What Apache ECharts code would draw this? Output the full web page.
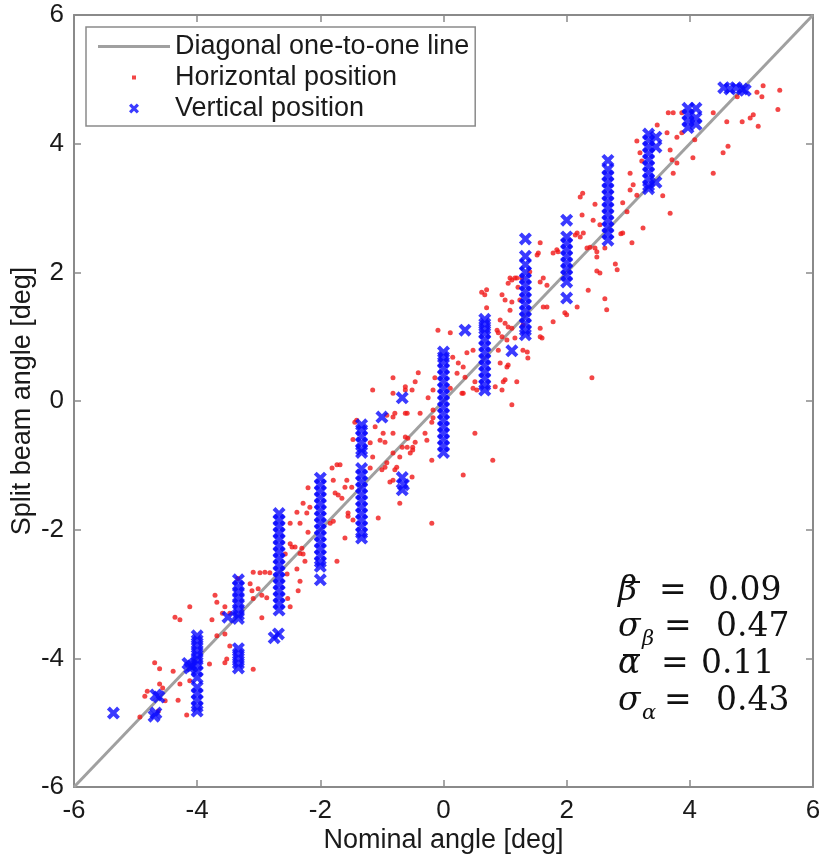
<!DOCTYPE html>
<html>
<head>
<meta charset="utf-8">
<script src="https://cdn.jsdelivr.net/npm/echarts@6/dist/echarts.min.js"></script>
<style>html,body{margin:0;padding:0;background:#fff;}#chart{width:824px;height:859px;}</style>
</head>
<body>
<div id="chart"></div>
<script>
// ---- data ----
var axisTicks = [-6, -4, -2, 0, 2, 4, 6];
var diagonalLine = [[-6, -6], [6, 6]];

var horizontalPoints = [
 [5.19,4.90],[5.46,4.83],[5.09,4.80],[5.17,4.73],[4.77,4.73],[5.43,4.53],[5.03,4.45],[4.98,4.40],[4.85,4.34],[4.60,4.34],
 [5.11,4.27],[4.38,4.48],[3.65,4.48],[3.73,4.48],[3.87,4.48],[3.47,4.29],[3.63,4.17],[3.87,4.17],[3.79,4.10],[3.14,4.04],
 [4.08,4.06],[4.62,3.96],[4.54,3.86],[4.05,3.78],[3.19,3.86],[3.22,3.73],[3.68,3.90],[3.71,3.75],[3.79,3.70],[3.73,3.54],
 [4.38,3.54],[3.03,3.54],[3.08,3.36],[3.03,3.28],[3.14,3.20],[3.56,3.19],[2.26,3.23],[2.22,3.17],[2.46,3.06],[2.91,3.08],
 [2.98,2.94],[3.68,2.92],[2.25,2.89],[2.43,2.81],[2.54,2.74],[3.24,2.69],[2.27,2.61],[1.57,2.46],[2.17,2.61],[2.22,2.55],
 [2.91,2.61],[3.06,2.46],[1.78,2.30],[1.86,2.32],[1.54,2.30],[2.38,2.39],[2.49,2.32],[2.62,2.38],[2.49,2.24],[2.79,2.13],
 [2.82,2.04],[2.49,2.02],[2.54,1.99],[1.08,1.91],[1.19,1.91],
 [2.62,1.59],[2.65,1.42],[2.35,1.72],[2.14,2.58],[2.88,2.60],[2.46,2.38],[2.33,2.38],[1.84,2.35],[1.52,2.27],[1.11,1.88],
 [1.16,1.91],[1.27,1.91],[1.57,1.85],[1.62,1.91],[1.68,1.80],[1.40,2.01],[1.21,1.77],[1.05,1.83],[0.70,1.73],[0.67,1.65],
 [0.95,1.65],[1.00,1.57],[1.11,1.54],[1.24,1.57],[1.68,1.46],[1.78,1.23],[1.97,1.37],[1.08,1.41],[0.92,1.26],[1.00,1.21],
 [1.05,1.15],[1.11,1.13],[0.87,1.10],[0.89,1.06],[0.95,1.00],[1.03,0.95],[1.16,0.98],[1.29,1.18],[1.57,1.13],[1.60,0.98],
 [1.36,0.76],[1.37,0.67],[0.89,0.79],[0.92,0.59],[1.05,0.56],[0.97,0.30],[1.19,0.30],[0.95,0.17],[0.51,0.30],[0.48,0.20],
 [0.32,0.12],[0.11,0.20],[0.35,0.37],[0.22,0.43],[0.24,0.59],[0.38,0.75],[0.48,0.79],[0.15,0.68],[0.11,1.06],[0.70,1.45],
 [0.62,1.69],
 [-0.09,1.10],[-0.82,0.36],[-0.41,0.44],[-0.46,0.30],[-0.62,0.17],[-0.51,0.17],[-0.82,0.12],[-0.14,0.36],[-0.17,0.17],[-0.25,0.05],
 [-0.59,-0.19],[-0.82,-0.25],[-0.38,-0.19],[-0.17,-0.14],[-0.17,-0.26],[-0.19,-0.33],[-0.98,-0.50],[-0.82,-0.50],[-0.62,-0.56],[-0.30,-0.50],
 [-0.27,-0.61],[-0.59,-0.72],[-0.50,-0.72],[-0.54,-0.81],[-0.82,-0.81],[-0.71,-0.87],[-0.19,-0.92],[-0.95,-1.03],[-0.79,-1.07],[-0.87,-1.26],
 [0.32,-1.15],[0.80,-0.92],[0.51,-0.50],[1.11,-0.06],[2.41,0.36],[0.32,0.53],[0.30,0.12],[0.54,0.17],[1.00,0.33],[0.84,0.22],
 [1.03,0.53],[1.29,0.79],[1.57,1.00],[2.00,1.34],[2.17,1.46],[1.62,1.46],
 [-1.15,0.17],[-0.62,0.22],[-0.79,-0.19],[-0.62,-0.19],[-0.92,-0.22],[-1.44,-0.33],[-1.11,-0.40],[-1.03,-0.61],[-0.95,-0.64],[-1.19,-0.65],
 [-1.15,-0.87],[-0.67,-0.72],[-0.58,-0.58],[-0.46,-0.64],[-0.50,-0.76],[-0.76,-1.03],[-0.92,-0.96],[-1.00,-1.07],[-1.19,-1.04],[-0.82,-1.23],
 [-0.51,-1.18],[-0.71,-1.59],[-1.06,-1.82],[-0.19,-1.90],[-1.73,-0.99],[-1.68,-0.99],[-1.81,-1.04],[-1.79,-1.23],[-1.57,-1.23],[-1.60,-1.34],
 [-1.76,-1.43],[-1.71,-1.46],[-1.65,-1.51],[-1.49,-1.34],[-1.55,-1.74],[-1.47,-1.85],[-1.55,-1.79],[-1.79,-1.87],[-1.60,-2.13],[-1.84,-1.90],
 [-2.20,-1.35],[-2.17,-1.65],[-2.28,-1.59],[-2.33,-1.90],[-2.22,-1.74],[-2.38,-1.73],[-2.49,-1.90],[-2.20,-2.04],[-2.46,-2.27],[-2.41,-2.27],
 [-2.30,-2.29],[-2.28,-2.38],[-2.33,-2.37],[-2.49,-2.22],[-2.57,-2.38],[-2.25,-2.49],[-1.73,-2.49],[-2.38,-2.61],[-2.54,-2.69],[-2.33,-2.80],
 [-2.36,-2.95],[-3.09,-2.66],[-2.98,-2.67],[-2.90,-2.66],[-2.82,-2.67],[-3.14,-2.84],[-3.01,-2.92],[-3.11,-2.95],[-2.95,-3.02],[-2.87,-3.06],
 [-3.09,-3.07],[-2.53,-3.07],[-2.49,-3.20],[-2.95,-3.37],[-3.55,-3.20],[-3.59,-3.30],
 [-3.34,-2.76],[-3.71,-3.02],[-3.68,-3.13],[-4.12,-3.20],[-4.36,-3.36],[-4.28,-3.40],[-3.76,-3.40],[-3.55,-3.62],[-3.47,-3.30],[-3.68,-3.65],
 [-3.47,-3.81],[-3.52,-4.01],[-3.80,-4.09],[-3.55,-4.07],[-3.09,-4.17],[-4.69,-4.07],[-4.61,-4.16],[-4.39,-4.20],[-4.12,-4.35],[-4.28,-4.40],
 [-4.61,-4.40],[-4.56,-4.46],[-4.81,-4.51],[-4.85,-4.59],[-4.52,-4.66],[-4.63,-4.82],[-4.31,-4.65],[-4.17,-4.88],[-4.93,-4.91],
 [-1.41,-0.30],[-1.47,-0.60]
];

var verticalPoints = [
 [-5.36,-4.85],
 [-4.67,-4.57],[-4.62,-4.60],[-4.67,-4.85],[-4.70,-4.90],
 [-4,-3.65],[-4,-3.72],[-4,-3.80],[-4,-3.88],[-4,-3.95],[-4,-4.02],[-4,-4.10],[-4,-4.20],[-4,-4.30],[-4,-4.45],[-4,-4.55],[-4,-4.65],[-4,-4.75],[-4,-4.82],
 [-4.15,-4.08],[-4.12,-4.15],[-4.08,-4.12],
 [-3.33,-2.78],[-3.33,-2.88],[-3.33,-2.97],[-3.33,-3.06],[-3.33,-3.15],[-3.33,-3.24],[-3.33,-3.32],[-3.33,-3.38],[-3.50,-3.36],
 [-3.33,-3.85],[-3.33,-3.93],[-3.33,-4.00],[-3.33,-4.08],[-3.33,-4.15],
 [-2.67,-1.75],[-2.67,-1.85],[-2.67,-1.95],[-2.67,-2.05],[-2.67,-2.15],[-2.67,-2.25],[-2.67,-2.35],[-2.67,-2.45],[-2.67,-2.55],[-2.67,-2.65],
 [-2.67,-2.75],[-2.67,-2.85],[-2.67,-2.95],[-2.67,-3.05],[-2.67,-3.15],[-2.67,-3.25],[-2.75,-3.68],[-2.68,-3.62],
 [-2,-1.20],[-2,-1.30],[-2,-1.40],[-2,-1.50],[-2,-1.60],[-2,-1.70],[-2,-1.80],[-2,-1.90],[-2,-2.00],[-2,-2.10],[-2,-2.20],[-2,-2.30],[-2,-2.40],[-2,-2.50],[-2,-2.57],[-2,-2.78],
 [-1.33,-0.37],[-1.33,-0.45],[-1.33,-0.55],[-1.33,-0.65],[-1.33,-0.75],[-1.33,-0.80],
 [-1.33,-1.05],[-1.33,-1.15],[-1.33,-1.25],[-1.33,-1.35],[-1.33,-1.45],[-1.33,-1.55],[-1.33,-1.65],[-1.33,-1.75],[-1.33,-1.85],[-1.33,-1.95],[-1.33,-2.05],[-1.33,-2.13],
 [-0.67,0.05],[-1.00,-0.25],[-0.67,-1.19],[-0.65,-1.30],[-0.67,-1.38],
 [0,0.76],[0,0.68],[0,0.60],[0,0.50],[0,0.40],[0,0.30],[0,0.20],[0,0.10],[0,0.00],[0,-0.10],[0,-0.20],[0,-0.30],[0,-0.40],[0,-0.50],[0,-0.60],[0,-0.70],[0,-0.80],
 [0.67,1.27],[0.67,1.20],[0.67,1.12],[0.67,1.05],[0.67,0.95],[0.67,0.85],[0.67,0.75],[0.67,0.65],[0.67,0.55],[0.67,0.45],[0.67,0.35],[0.67,0.25],[0.67,0.17],
 [0.35,1.10],[1.11,0.78],
 [1.33,2.52],[1.33,2.25],[1.33,2.12],[1.33,2.00],[1.33,1.90],[1.33,1.80],[1.33,1.70],[1.33,1.60],[1.33,1.50],[1.33,1.40],[1.33,1.30],[1.33,1.20],[1.33,1.10],[1.33,1.03],
 [2,2.81],[2,2.55],[2,2.45],[2,2.35],[2,2.25],[2,2.15],[2,2.05],[2,1.95],[2,1.85],[2,1.60],
 [2.67,3.74],[2.67,3.60],[2.67,3.50],[2.67,3.40],[2.67,3.30],[2.67,3.20],[2.67,3.10],[2.67,3.00],[2.67,2.90],[2.67,2.80],[2.67,2.70],[2.67,2.60],[2.67,2.50],
 [3.33,4.15],[3.33,4.05],[3.33,3.95],[3.33,3.85],[3.33,3.75],[3.33,3.65],[3.33,3.55],[3.33,3.45],[3.33,3.35],[3.33,3.30],
 [3.45,4.10],[3.45,3.95],[3.45,3.40],
 [3.97,4.55],[3.97,4.45],[3.97,4.35],[3.97,4.25],[4.10,4.55],[4.10,4.40],[4.10,4.30],
 [4.55,4.87],[4.65,4.85],[4.75,4.87],[4.85,4.85],[4.90,4.83]
];

var seriesNames = ['Diagonal one-to-one line', 'Horizontal position', 'Vertical position'];
var statLines = [
  {sym: 'β', sub: '', bar: true, value: '0.09'},
  {sym: 'σ', sub: 'β', bar: false, value: '0.47'},
  {sym: 'α', sub: '', bar: true, value: '0.11'},
  {sym: 'σ', sub: 'α', bar: false, value: '0.43'}
];

// ---- chart ----
var FONT = '"Liberation Sans", Arial, sans-serif';
var SERIF = '"DejaVu Serif", serif';
var AX = '#8a8a8a';
var X_SHAPE = 'M0,2.2L2.2,0L5,2.8L7.8,0L10,2.2L7.2,5L10,7.8L7.8,10L5,7.2L2.2,10L0,7.8L2.8,5Z';
var X_PATH = 'path://' + X_SHAPE;
var X_LEGEND = 'path://M-2,-2M12,12' + X_SHAPE;
var DOT_LEGEND = 'path://M0,0M14,14M5,5h4v4h-4z';
var LINE_LEGEND = 'path://M0,0h72v3h-72z';

function axisCommon(pos, showLabel, name) {
  return {
    type: 'value', min: axisTicks[0], max: axisTicks[axisTicks.length - 1], interval: 2,
    position: pos,
    axisLine: {show: true, onZero: false, lineStyle: {color: AX, width: 2}},
    axisTick: {show: true, inside: true, length: 7, lineStyle: {color: AX, width: 1.5}},
    axisLabel: {show: showLabel, fontSize: 26, color: '#1a1a1a', fontFamily: FONT, margin: 10},
    splitLine: {show: false},
    name: name || '', nameLocation: 'middle', nameMoveOverlap: false,
    nameTextStyle: {fontSize: 27, color: '#1a1a1a', fontFamily: FONT}
  };
}

var xBottom = axisCommon('bottom', true, 'Nominal angle [deg]');
xBottom.nameGap = 40;
xBottom.axisLabel.margin = 11;
var yLeft = axisCommon('left', true, 'Split beam angle [deg]');
yLeft.nameGap = 38;

var graphics = [];
var statY = [595, 631, 668, 705];
statLines.forEach(function (s, i) {
  var y = statY[i];
  graphics.push({type: 'text', left: 618, top: y - 20, z: 100,
    style: {text: s.sym, font: 'italic 33px ' + SERIF, fill: '#111'}});
  if (s.sub) {
    graphics.push({type: 'text', left: 642, top: y - 2, z: 100,
      style: {text: s.sub, font: 'italic 21px ' + SERIF, fill: '#111'}});
  }
  if (s.bar) {
    graphics.push({type: 'line', z: 100, shape: {x1: 623, y1: y - 13, x2: 640, y2: y - 13},
      style: {stroke: '#111', lineWidth: 2}});
  }
  var eqX = s.sub ? 664 : (i === 2 ? 661 : 659);
  var valX = s.sub ? 716 : (i === 2 ? 701 : 708);
  graphics.push({type: 'text', left: eqX, top: y - 20, z: 100,
    style: {text: '=', font: '33px ' + SERIF, fill: '#111'}});
  graphics.push({type: 'text', left: valX, top: y - 20, z: 100,
    style: {text: s.value, font: '33px ' + SERIF, fill: '#111'}});
});

var chart = echarts.init(document.getElementById('chart'), null, {renderer: 'canvas'});
chart.setOption({
  backgroundColor: '#ffffff',
  animation: false,
  grid: {left: 74, right: 11, top: 15, bottom: 72, containLabel: false, outerBoundsMode: 'none'},
  xAxis: [xBottom, axisCommon('top', false)],
  yAxis: [yLeft, axisCommon('right', false)],
  legend: {
    orient: 'vertical', left: 86, top: 27,
    padding: [6, 6, 4, 12], itemGap: 4,
    itemWidth: 72, itemHeight: 14,
    backgroundColor: '#ffffff', borderColor: AX, borderWidth: 1.5, borderRadius: 0,
    textStyle: {fontSize: 27, color: '#1a1a1a', fontFamily: FONT},
    data: [
      {name: seriesNames[0], icon: LINE_LEGEND},
      {name: seriesNames[1], icon: DOT_LEGEND},
      {name: seriesNames[2], icon: X_LEGEND}
    ],
    selectedMode: false
  },
  graphic: graphics,
  series: [
    {name: seriesNames[0], type: 'line', data: diagonalLine, showSymbol: false, symbol: 'none',
     lineStyle: {color: '#a0a0a0', width: 3}, itemStyle: {color: '#a0a0a0'}, z: 2},
    {name: seriesNames[1], type: 'scatter', data: horizontalPoints, symbol: 'circle', symbolSize: 5,
     itemStyle: {color: '#f01818'}, z: 3},
    {name: seriesNames[2], type: 'scatter', data: verticalPoints, symbol: X_PATH, symbolSize: 13,
     itemStyle: {color: '#0a0aff'}, z: 4}
  ]
});
</script>
</body>
</html>
